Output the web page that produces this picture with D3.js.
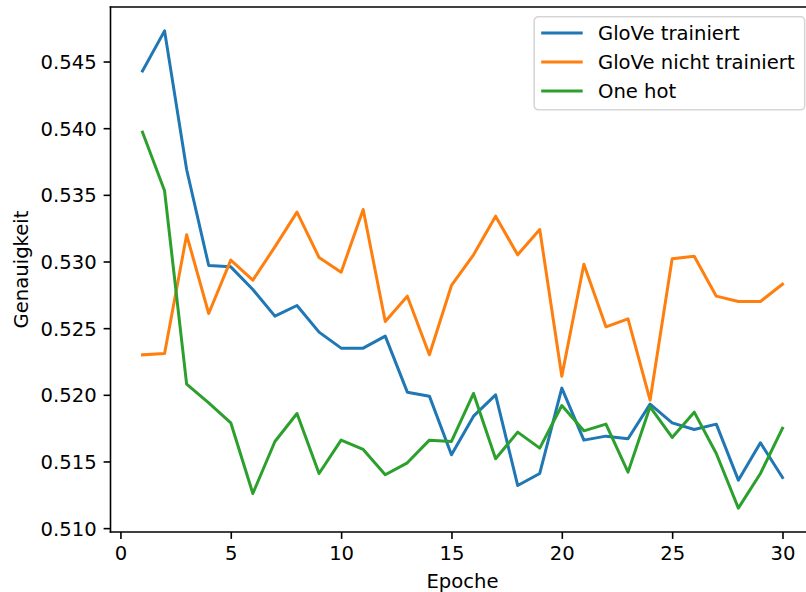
<!DOCTYPE html>
<html>
<head>
<meta charset="utf-8">
<script src="https://cdn.jsdelivr.net/npm/d3@7"></script>
<style>
  html, body { margin: 0; padding: 0; background: #fff; overflow: hidden; }
  svg { display: block; font-family: "DejaVu Sans", sans-serif; }
</style>
</head>
<body>
<svg id="chart" width="806" height="592"></svg>
<script>
// Accuracy per epoch for three embedding variants
const epochs = d3.range(1, 31);

const gloveTrained = [
  0.5443, 0.5473, 0.5369, 0.5297, 0.5296, 0.5279, 0.5259, 0.5267, 0.5247, 0.5235,
  0.5235, 0.5244, 0.5202, 0.5199, 0.5155, 0.5184, 0.5200, 0.5132, 0.5141, 0.5205,
  0.5166, 0.5169, 0.5167, 0.5193, 0.5179, 0.5174, 0.5178, 0.5136, 0.5164, 0.5138
];

const gloveFrozen = [
  0.5230, 0.5231, 0.5320, 0.5261, 0.5301, 0.5286, 0.5311, 0.5337, 0.5303, 0.5292,
  0.5339, 0.5255, 0.5274, 0.5230, 0.5282, 0.5305, 0.5334, 0.5305, 0.5324, 0.5214,
  0.5298, 0.5251, 0.5257, 0.5196, 0.5302, 0.5304, 0.5274, 0.5270, 0.5270, 0.5283
];

const oneHot = [
  0.5397, 0.5353, 0.5208, 0.5194, 0.5179, 0.5126, 0.5165, 0.5186, 0.5141, 0.5166,
  0.5159, 0.5140, 0.5149, 0.5166, 0.5165, 0.5201, 0.5152, 0.5172, 0.5160, 0.5192,
  0.5173, 0.5178, 0.5142, 0.5191, 0.5168, 0.5187, 0.5156, 0.5115, 0.5141, 0.5175
];

const seriesNames = ["GloVe trainiert", "GloVe nicht trainiert", "One hot"];
const seriesColors = ["#1f77b4", "#ff7f0e", "#2ca02c"];
const seriesValues = [gloveTrained, gloveFrozen, oneHot];

const xTicks = [0, 5, 10, 15, 20, 25, 30];
const yTicks = [0.510, 0.515, 0.520, 0.525, 0.530, 0.535, 0.540, 0.545];

const xLabel = "Epoche";
const yLabel = "Genauigkeit";

// Layout
const fontSize = 19.6;
const margin = { left: 110.5, top: 7, right: 0, bottom: 0 };
const plotW = 704, plotH = 525;

const svg = d3.select("#chart");
const g = svg.append("g").attr("transform", `translate(${margin.left},${margin.top})`);

// Axis limits padded by 5% of the data range on each side
const xExt = d3.extent(epochs);
const xPad = (xExt[1] - xExt[0]) * 0.05;
const allVals = seriesValues.flat();
const yExt = d3.extent(allVals);
const yPad = (yExt[1] - yExt[0]) * 0.05;

const x = d3.scaleLinear().domain([xExt[0] - xPad, xExt[1] + xPad]).range([0, plotW]);
const y = d3.scaleLinear().domain([yExt[0] - yPad, yExt[1] + yPad]).range([plotH, 0]);

// Series lines
const line = d3.line()
  .x((d, i) => x(epochs[i]))
  .y(d => y(d));

seriesValues.forEach((vals, k) => {
  g.append("path")
    .datum(vals)
    .attr("d", line)
    .attr("fill", "none")
    .attr("stroke", seriesColors[k])
    .attr("stroke-width", 3)
    .attr("stroke-linejoin", "round")
    .attr("stroke-linecap", "square");
});

// Axes
const tickLen = 6.9;
const xAxis = d3.axisBottom(x).tickValues(xTicks).tickFormat(d3.format("d"))
  .tickSizeInner(tickLen).tickSizeOuter(0).tickPadding(6.9);
const yAxis = d3.axisLeft(y).tickValues(yTicks).tickFormat(d3.format(".3f"))
  .tickSizeInner(tickLen).tickSizeOuter(0).tickPadding(6.9);

const gx = g.append("g").attr("transform", `translate(0,${plotH})`).call(xAxis);
const gy = g.append("g").call(yAxis);

[gx, gy].forEach(ax => {
  ax.select(".domain").remove();
  ax.selectAll(".tick line").attr("stroke", "#000").attr("stroke-width", 1.6);
  ax.selectAll(".tick text")
    .attr("fill", "#000")
    .attr("font-size", fontSize)
    .attr("font-family", "DejaVu Sans");
});
gx.selectAll(".tick text").attr("dy", null).attr("y", 0)
  .attr("transform", `translate(0,${tickLen + 6.9 + fontSize * 0.73})`);
gy.selectAll(".tick text").attr("dy", null)
  .attr("transform", `translate(0,${fontSize * 0.365})`);

// Spines
const spine = { stroke: "#000", "stroke-width": 1.6 };
[[0, 0, 0, plotH], [0, plotH, plotW, plotH], [0, 0, plotW, 0], [plotW, 0, plotW, plotH]]
  .forEach(([x1, y1, x2, y2]) => {
    g.append("line")
      .attr("x1", x1).attr("y1", y1).attr("x2", x2).attr("y2", y2)
      .attr("stroke", spine.stroke).attr("stroke-width", spine["stroke-width"])
      .attr("stroke-linecap", "square");
  });

// Axis labels
svg.append("text")
  .attr("x", margin.left + plotW / 2)
  .attr("y", 587.5)
  .attr("text-anchor", "middle")
  .attr("font-size", fontSize)
  .attr("fill", "#000")
  .text(xLabel);

svg.append("text")
  .attr("transform", `translate(27.5,${margin.top + plotH / 2}) rotate(-90)`)
  .attr("text-anchor", "middle")
  .attr("font-size", fontSize)
  .attr("fill", "#000")
  .text(yLabel);

// Legend in the upper right corner
const legendW = 270.5, legendH = 93;
const legendX = margin.left + plotW - 9.8 - legendW;
const legendY = margin.top + 9.8;
const legend = svg.append("g").attr("transform", `translate(${legendX},${legendY})`);

legend.append("rect")
  .attr("width", legendW).attr("height", legendH)
  .attr("rx", 4).attr("ry", 4)
  .attr("fill", "#fff").attr("fill-opacity", 0.8)
  .attr("stroke", "#cccccc").attr("stroke-opacity", 0.8)
  .attr("stroke-width", 1.6);

seriesNames.forEach((name, k) => {
  const cy = 16.3 + k * 28.9;
  legend.append("line")
    .attr("x1", 7).attr("x2", 48.5)
    .attr("y1", cy).attr("y2", cy)
    .attr("stroke", seriesColors[k])
    .attr("stroke-width", 3)
    .attr("stroke-linecap", "butt");
  legend.append("text")
    .attr("x", 63.8)
    .attr("y", cy + fontSize * 0.365)
    .attr("font-size", fontSize)
    .attr("fill", "#000")
    .text(name);
});
</script>
</body>
</html>
